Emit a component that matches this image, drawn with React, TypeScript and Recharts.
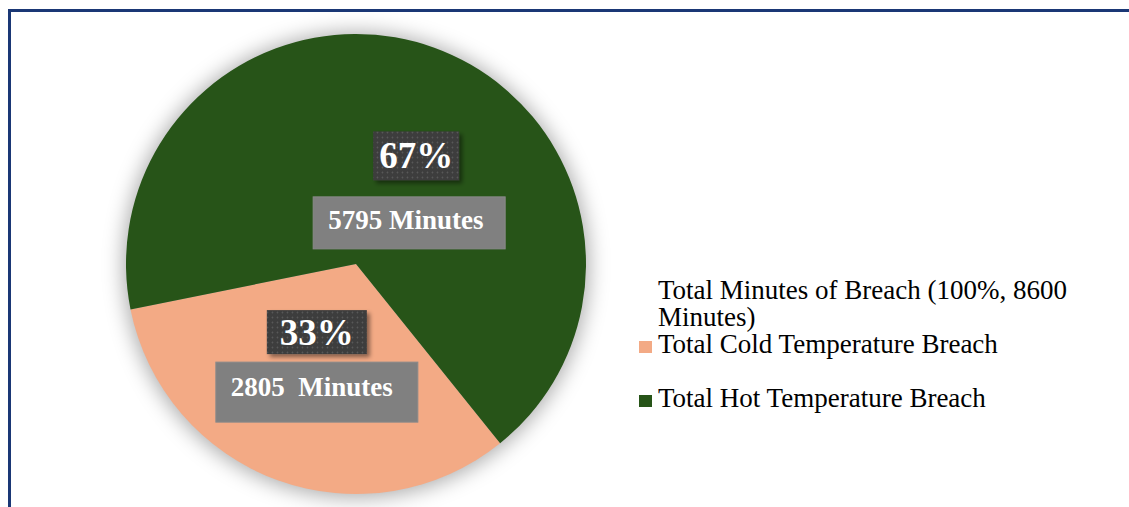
import React from 'react';
import { PieChart, Pie, Cell, Legend } from 'recharts';

const categories = ['Total Cold Temperature Breach', 'Total Hot Temperature Breach'];
const minutes = [2805, 5795];
const minuteLabels = ['2805  Minutes', '5795 Minutes'];
const colors = ['#F3AA85', '#275418'];
const legendTitle = 'Total Minutes of Breach (100%, 8600 Minutes)';

const data = categories.map((name, i) => ({ name, value: minutes[i] }));
const shadowData = [{ name: 'shadow', value: 1 }];

const FONT = '"Liberation Serif", "Times New Roman", serif';
const RAD = Math.PI / 180;

// label box geometry relative to the slice's mid-radius anchor point
const labelBoxes = [
  { pct: { dx: 0, dy: -40, w: 100, h: 44 }, min: { dx: 0, dy: 20, w: 202, h: 60, by: 4 } },
  { pct: { dx: 21, dy: 0, w: 86, h: 49 }, min: { dx: 14, dy: 67, w: 192, h: 52, by: 6 } },
];

const renderLabel = (props: any) => {
  const { cx, cy, midAngle, outerRadius, percent, index } = props;
  const r = outerRadius * 0.5;
  const ax = cx + r * Math.cos(-midAngle * RAD);
  const ay = cy + r * Math.sin(-midAngle * RAD);
  const b = labelBoxes[index];
  if (!b) return null;
  const px = ax + b.pct.dx;
  const py = ay + b.pct.dy;
  const mx = ax + b.min.dx;
  const my = ay + b.min.dy;
  return (
    <g>
      <rect
        x={mx - b.min.w / 2}
        y={my - b.min.h / 2}
        width={b.min.w}
        height={b.min.h}
        fill="#808080"
        stroke="#8a8a8a"
        strokeWidth={1}
      />
      <text
        x={mx - b.min.w / 2 + 15}
        y={my + b.min.by}
        fill="#ffffff"
        fontFamily={FONT}
        fontWeight="bold"
        fontSize={27}
        style={{ whiteSpace: 'pre' }}
      >
        {minuteLabels[index]}
      </text>
      <rect
        x={px - b.pct.w / 2}
        y={py - b.pct.h / 2}
        width={b.pct.w}
        height={b.pct.h}
        fill="url(#dots)"
        filter="url(#boxShadow)"
      />
      <text
        x={px}
        y={py + 12.5}
        textAnchor="middle"
        fill="#ffffff"
        fontFamily={FONT}
        fontWeight="bold"
        fontSize={37}
      >
        {`${Math.round(percent * 100)}%`}
      </text>
    </g>
  );
};

const renderLegend = (props: any) => {
  const payload = (props.payload || []).filter((p: any) => categories.includes(p.value));
  const items = categories.map((c, i) => {
    const p = payload.find((q: any) => q.value === c);
    return { name: c, color: (p && p.color) || colors[i] };
  });
  return (
    <div style={{ fontFamily: FONT, fontSize: 27, lineHeight: '27px', color: '#000', textAlign: 'left' }}>
      <div style={{ paddingLeft: 19, width: 465 }}>{legendTitle}</div>
      {items.map((it, i) => (
        <div key={it.name} style={{ marginTop: i === 0 ? 0 : 27, whiteSpace: 'nowrap' }}>
          <span
            style={{ display: 'inline-block', width: 13, height: 12, background: it.color, marginRight: 6 }}
          />
          {it.name}
        </div>
      ))}
    </div>
  );
};

export default function App() {
  return (
    <div style={{ position: 'absolute', left: 0, top: 0, width: 1129, height: 507, overflow: 'hidden', background: '#fff' }}>
      <div
        style={{
          position: 'absolute',
          left: 8,
          top: 9,
          width: 1300,
          height: 700,
          borderTop: '3px solid #1a3775',
          borderLeft: '3px solid #1a3775',
        }}
      />
      <div style={{ position: 'absolute', left: 0, top: 0 }}>
        <PieChart width={1129} height={507} margin={{ top: 0, right: 0, bottom: 0, left: 0 }}>
          <defs>
            <pattern id="dots" width="5" height="5" patternUnits="userSpaceOnUse">
              <rect width="5" height="5" fill="#3c3c3c" />
              <circle cx="2.5" cy="2.5" r="0.9" fill="#595959" />
            </pattern>
            <filter id="boxShadow" x="-20%" y="-20%" width="150%" height="150%">
              <feDropShadow dx="3" dy="3" stdDeviation="2" floodColor="#000" floodOpacity="0.45" />
            </filter>
            <filter id="pieShadow" x="-20%" y="-20%" width="140%" height="140%">
              <feGaussianBlur in="SourceGraphic" stdDeviation="10" />
            </filter>
          </defs>
          <Pie
            data={shadowData}
            dataKey="value"
            cx={356}
            cy={265}
            outerRadius={233}
            startAngle={90}
            endAngle={-270}
            stroke="none"
            legendType="none"
            isAnimationActive={false}
            label={false}
          >
            <Cell fill="#000" fillOpacity={0.32} filter="url(#pieShadow)" />
          </Pie>
          <Pie
            data={data}
            dataKey="value"
            nameKey="name"
            cx={356}
            cy={264}
            outerRadius={230}
            startAngle={-51.2}
            endAngle={-411.2}
            stroke="none"
            labelLine={false}
            label={renderLabel}
            isAnimationActive={false}
          >
            {data.map((d, i) => (
              <Cell key={d.name} fill={colors[i]} />
            ))}
          </Pie>
          <Legend
            layout="horizontal"
            verticalAlign="middle"
            align="center"
            wrapperStyle={{ position: 'absolute', left: 639, top: 277, width: 480, height: 'auto' }}
            content={renderLegend}
          />
        </PieChart>
      </div>
    </div>
  );
}
